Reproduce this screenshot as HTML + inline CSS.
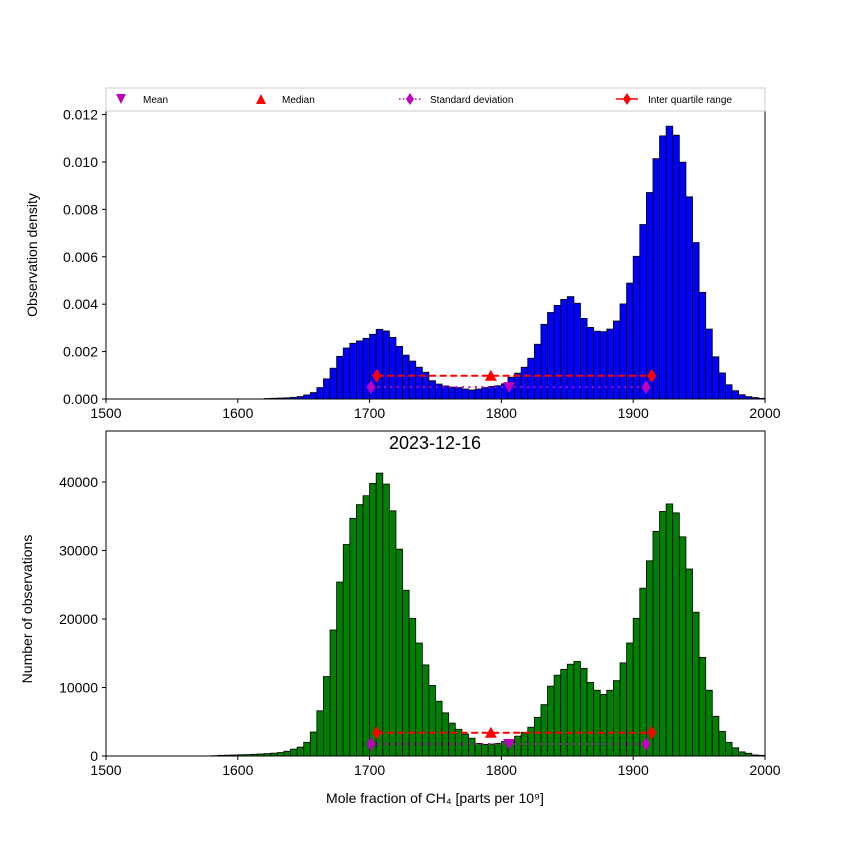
<!DOCTYPE html>
<html><head><meta charset="utf-8"><style>
body{margin:0;background:#fff}
svg text{font-family:"Liberation Sans","DejaVu Sans",sans-serif}
</style></head><body>
<svg id="chart" width="850" height="850" xmlns="http://www.w3.org/2000/svg">
<g id="top"></g>
<g id="bot"></g>
<g id="legend">
<rect x="106" y="88" width="659" height="23" fill="#fff" stroke="#ccc"/>
<g><path d="M116,94 L126,94 L121,104 Z" fill="#bf00bf"/><text x="143" y="103" font-size="10">Mean</text></g>
<g><path d="M256,104 L266,104 L261,94 Z" fill="red"/><text x="282" y="103" font-size="10">Median</text></g>
<g><line x1="399" y1="99" x2="421" y2="99" stroke="#bf00bf" stroke-width="1.5" stroke-dasharray="1.5,2.5"/><path d="M410,93 L414,99 L410,105 L406,99 Z" fill="#bf00bf"/><text x="430" y="103" font-size="10">Standard deviation</text></g>
<g><line x1="616" y1="99" x2="638" y2="99" stroke="red" stroke-width="1.5"/><path d="M627,93 L631,99 L627,105 L623,99 Z" fill="red"/><text x="648" y="103" font-size="10">Inter quartile range</text></g>
</g>
<text x="435" y="449" font-size="18" text-anchor="middle">2023-12-16</text>
<text x="435" y="803" font-size="14" text-anchor="middle">Mole fraction of CH₄ [parts per 10⁹]</text>
<text transform="translate(37,255) rotate(-90)" font-size="14" text-anchor="middle">Observation density</text>
<text transform="translate(32,609) rotate(-90)" font-size="14" text-anchor="middle">Number of observations</text>
</svg>
<script>
const binStartTop = 1620;
const densities = [0.00002,0.00003,0.00004,0.00005,0.00007,0.0001,0.00017,0.00027,0.00048,0.00085,0.0013,0.0018,0.00215,0.00235,0.00245,0.00256,0.00273,0.00294,0.00287,0.0026,0.00222,0.00185,0.0016,0.00134,0.00113,0.00077,0.00063,0.00055,0.0005,0.00048,0.00042,0.00038,0.00042,0.00048,0.00053,0.00056,0.00064,0.00092,0.00109,0.00134,0.00172,0.00231,0.00315,0.00365,0.00395,0.0042,0.00432,0.00404,0.0034,0.00302,0.00286,0.00284,0.00295,0.00329,0.00401,0.00489,0.00602,0.00736,0.00871,0.01014,0.0111,0.01151,0.01113,0.00999,0.00853,0.0066,0.0045,0.00295,0.00178,0.0011,0.0006,0.00035,0.00018,0.0001,0.00006,0.00003];
const binStartBot = 1580;
const counts = [50,100,120,150,180,200,250,300,350,420,500,700,1000,1300,2000,3500,6600,11600,18400,25400,30900,34700,36700,38000,39800,41300,39700,35800,30200,24200,20100,16500,13300,10300,8000,6300,4800,3900,3200,2600,1850,1700,1750,1850,2100,2300,2900,3450,4200,5650,7500,10200,11800,12650,13400,13800,12800,10750,9600,9000,9600,11000,13600,16500,20100,24500,28500,32800,35700,36800,35500,32000,27300,21000,14400,9600,5800,3600,2000,1200,600,400,150,100];
const binWidth = 5;
const xTicks = [1500,1600,1700,1800,1900,2000];
const topYTicks = [0,0.002,0.004,0.006,0.008,0.010,0.012];
const botYTicks = [0,10000,20000,30000,40000];
const stats = {mean:1805.8, median:1792, stdLo:1701, stdHi:1909.7, iqrLo:1705.4, iqrHi:1914};
const topMarkY = {mean:0.0005, median:0.00098};
const botMarkY = {mean:1750, median:3400};

const NS="http://www.w3.org/2000/svg";
const X0=106,X1=765;
const xs=v=>X0+(v-1500)/500*(X1-X0);
function mk(p,tag,at){const e=document.createElementNS(NS,tag);for(const k in at)e.setAttribute(k,at[k]);p.appendChild(e);return e;}

function panel(g,yTop,yBot,yMax,vals,start,color,ticks,fmt,marks,name){
  const ys=v=>yBot-v/yMax*(yBot-yTop);
  vals.forEach((v,i)=>{
    const x=xs(start+i*binWidth),w=xs(start+(i+1)*binWidth)-x;
    const r=mk(g,'rect',{x:x,y:ys(v),width:w,height:yBot-ys(v),fill:color,stroke:'#000','stroke-width':0.8});
    
    
  });
  // stats
  const yI=ys(marks.median), yS=ys(marks.mean);
  const l1=mk(g,'line',{x1:xs(stats.iqrLo),x2:xs(stats.iqrHi),y1:yI,y2:yI,stroke:'red','stroke-width':2,'stroke-dasharray':'7,3.5'});
  
  const l2=mk(g,'line',{x1:xs(stats.stdLo),x2:xs(stats.stdHi),y1:yS,y2:yS,stroke:'#bf00bf','stroke-width':2,'stroke-dasharray':'2,4.5'});
  
  const dia=(x,y,c,n)=>{const d=mk(g,'path',{d:`M${x},${y-7} L${x+4.5},${y} L${x},${y+7} L${x-4.5},${y} Z`,fill:c});
    };
  dia(xs(stats.iqrLo),yI,'red','iqr-low-'+name);dia(xs(stats.iqrHi),yI,'red','iqr-high-'+name);
  dia(xs(stats.stdLo),yS,'#bf00bf','std-low-'+name);dia(xs(stats.stdHi),yS,'#bf00bf','std-high-'+name);
  const mx=xs(stats.median);
  const t=mk(g,'path',{d:`M${mx-6},${yI+5} L${mx+6},${yI+5} L${mx},${yI-6} Z`,fill:'red'});
  
  const ex=xs(stats.mean);
  const m=mk(g,'path',{d:`M${ex-6},${yS-5} L${ex+6},${yS-5} L${ex},${yS+6} Z`,fill:'#bf00bf'});
  
  // frame
  const f=mk(g,'rect',{x:X0,y:yTop,width:X1-X0,height:yBot-yTop,fill:'none',stroke:'#000','stroke-width':1});
  
  xTicks.forEach(v=>{
    mk(g,'line',{x1:xs(v),x2:xs(v),y1:yBot,y2:yBot+4,stroke:'#000'});
    const tx=mk(g,'text',{x:xs(v),y:yBot+19,'font-size':14,'text-anchor':'middle'});tx.textContent=v;
    
  });
  ticks.forEach(v=>{
    mk(g,'line',{x1:X0-4,x2:X0,y1:ys(v),y2:ys(v),stroke:'#000'});
    const tx=mk(g,'text',{x:X0-8,y:ys(v)+5,'font-size':14,'text-anchor':'end'});tx.textContent=fmt(v);
    
  });
}
panel(document.getElementById('top'),111,399,0.01215,densities,binStartTop,'#0000ff',topYTicks,v=>v.toFixed(3),topMarkY,'top');
panel(document.getElementById('bot'),431,756,47450,counts,binStartBot,'#008000',botYTicks,v=>String(v),botMarkY,'bottom');
</script>
</body></html>
